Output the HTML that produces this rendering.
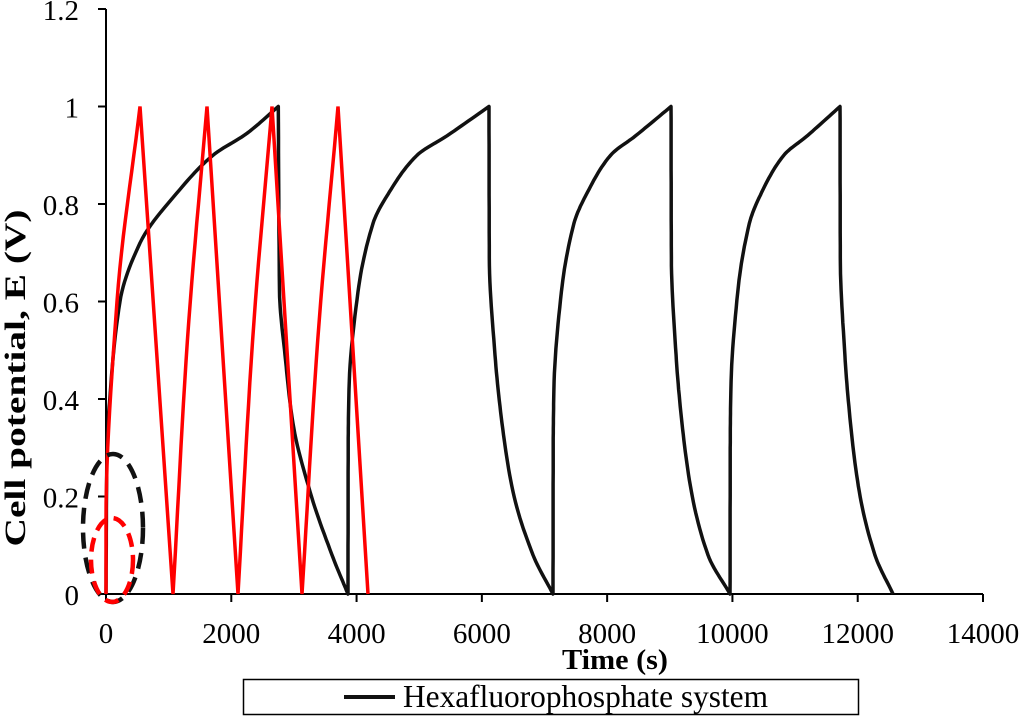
<!DOCTYPE html>
<html><head><meta charset="utf-8"><style>
body{margin:0;background:#fff}
svg{display:block;font-family:"Liberation Serif",serif}
</style></head><body>
<svg width="1024" height="716" viewBox="0 0 1024 716">
<g id="axes"></g>
<g id="series"></g>
<ellipse cx="113" cy="528" rx="30" ry="74" fill="none" stroke="#111" stroke-width="4.5" stroke-dasharray="16,9"/>
<ellipse cx="112" cy="560" rx="21" ry="42" fill="none" stroke="#f00" stroke-width="4.5" stroke-dasharray="14,8"/>
<text x="615" y="669" font-size="28" font-weight="bold" text-anchor="middle" textLength="106" lengthAdjust="spacingAndGlyphs">Time (s)</text>
<text transform="translate(25,378) rotate(-90)" font-size="30" font-weight="bold" text-anchor="middle" textLength="337" lengthAdjust="spacingAndGlyphs">Cell potential, E (V)</text>
<g>
<rect x="243.5" y="679.5" width="615" height="35" fill="#fff" stroke="#000" stroke-width="1.5"/>
<line x1="344" y1="697" x2="395" y2="697" stroke="#111" stroke-width="4"/>
<text x="403" y="707" font-size="32" textLength="365" lengthAdjust="spacingAndGlyphs">Hexafluorophosphate system</text>
</g>
</svg>
<script>
const xTicks=[0,2000,4000,6000,8000,10000,12000,14000];
const yTicks=[0,0.2,0.4,0.6,0.8,1,1.2];
const yTickLabels=["0","0.2","0.4","0.6","0.8","1","1.2"];
const blackT=[0,15,60,223,543,1181,1708,2251,2750,2770,2858,2985,3257,3608,3863,3866,3879,4023,4262,4550,4965,5444,6114,6119,6210,6322,6497,6817,7136,7139,7150,7270,7470,7710,8055,8455,9020,9025,9100,9195,9345,9610,9962,9965,9975,10085,10270,10490,10820,11195,11718,11722,11795,11885,12025,12275,12564];
const blackV=[0,0.3,0.4,0.6,0.72,0.83,0.9,0.945,1,0.62,0.49,0.35,0.21,0.08,0,0.3,0.42,0.62,0.76,0.83,0.9,0.94,1,0.69,0.49,0.35,0.21,0.08,0,0.3,0.42,0.62,0.76,0.83,0.9,0.94,1,0.69,0.49,0.35,0.21,0.08,0,0.3,0.42,0.62,0.76,0.83,0.9,0.94,1,0.69,0.49,0.35,0.21,0.08,0];
const redT=[0,0,176,543,1070,1300,1612,2107,2340,2650,3129,3380,3704,4183];
const redV=[0,0.15,0.6,1,0,0.52,1,0,0.52,1,0,0.52,1,0];
const X0=106,X1=983,Y0=594,Y1=9;
function sx(t){return X0+(t-0)/(14000-0)*(X1-X0);}
function sy(v){return Y0-(v-0)/(1.2-0)*(Y0-Y1);}
const NS="http://www.w3.org/2000/svg";
const axes=document.getElementById('axes'),series=document.getElementById('series');
function mk(tag,attrs,parent){const e=document.createElementNS(NS,tag);for(const k in attrs)e.setAttribute(k,attrs[k]);parent.appendChild(e);return e;}
let e=mk('line',{x1:X0,y1:Y1,x2:X0,y2:Y0,stroke:'#000','stroke-width':2},axes);


e=mk('line',{x1:X0,y1:Y0,x2:X1,y2:Y0,stroke:'#000','stroke-width':2},axes);


xTicks.forEach(t=>{
 let l=mk('line',{x1:sx(t),y1:Y0,x2:sx(t),y2:Y0+8,stroke:'#000','stroke-width':2},axes);
 
 
 let tx=mk('text',{x:sx(t),y:643,'font-size':29,'text-anchor':'middle'},axes);
 tx.textContent=String(t);
 
 
});
yTicks.forEach((v,i)=>{
 let l=mk('line',{x1:X0-8,y1:sy(v),x2:X0,y2:sy(v),stroke:'#000','stroke-width':2},axes);
 
 
 let tx=mk('text',{x:79,y:sy(v)+11,'font-size':29,'text-anchor':'end'},axes);
 tx.textContent=yTickLabels[i];
 
 
});
function monoSeg(T,V){
 const n=T.length; if(n<3) return T.map((t,i)=>[sx(t),sy(V[i])]);
 const dir=V[n-1]>V[0]?1:-1;
 const v=V.map(x=>x*dir), t=T.slice();
 const d=[],m=[];
 for(let i=0;i<n-1;i++)d.push((t[i+1]-t[i])/(v[i+1]-v[i]));
 m[0]=d[0];m[n-1]=d[n-2];
 for(let i=1;i<n-1;i++)m[i]=(d[i-1]*d[i]<=0)?0:2/(1/d[i-1]+1/d[i]);
 const pts=[];
 for(let i=0;i<n-1;i++){
  const h=v[i+1]-v[i];
  for(let k=0;k<12;k++){
   const s=k/12,h00=2*s*s*s-3*s*s+1,h10=s*s*s-2*s*s+s,h01=-2*s*s*s+3*s*s,h11=s*s*s-s*s;
   const tt=h00*t[i]+h10*h*m[i]+h01*t[i+1]+h11*h*m[i+1];
   pts.push([sx(tt),sy((v[i]+s*h)*dir)]);
  }
 }
 pts.push([sx(t[n-1]),sy(V[n-1])]);
 return pts;
}
function smoothPath(T,V){
 let pts=[],start=0;
 for(let i=1;i<=T.length-1;i++){
  const last=i===T.length-1;
  const turn=!last&&((V[i]-V[i-1])*(V[i+1]-V[i])<0);
  if(turn||last){
   const seg=monoSeg(T.slice(start,i+1),V.slice(start,i+1));
   pts=pts.concat(start?seg.slice(1):seg);
   start=i;
  }
 }
 return pts.map((p,i)=>(i?'L':'M')+p[0].toFixed(1)+','+p[1].toFixed(1)).join(' ');
}
e=mk('path',{d:smoothPath(blackT,blackV),fill:'none',stroke:'#111','stroke-width':3.5,'stroke-linejoin':'round'},series);


e=mk('path',{d:smoothPath(redT,redV),fill:'none',stroke:'#f00','stroke-width':3.5,'stroke-linejoin':'miter'},series);


</script>
</body></html>
